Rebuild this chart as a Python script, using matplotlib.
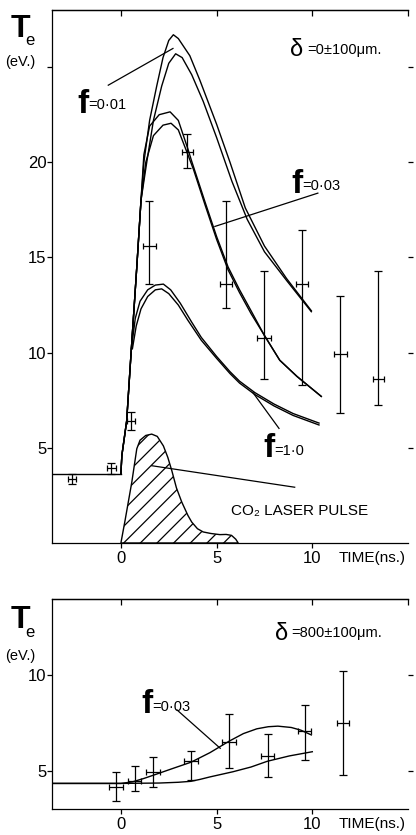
import matplotlib
matplotlib.use('Agg')
import matplotlib.pyplot as plt
import numpy as np

plt.rcParams['font.family'] = ['Liberation Sans', 'DejaVu Sans']
plt.rcParams['hatch.linewidth'] = 0.9

# ---- top panel: delta = 0 +/- 100 um ----
base_t = [-3.6, 0.0]
base_T = [3.64, 3.64]

f001_a_t = [0, 0.05, 0.3, 0.5, 0.83, 1.05, 1.2, 1.5, 1.87, 2.2, 2.5, 2.74, 3.0, 3.6, 4.13, 5.0, 5.7, 6.5, 7.5, 8.65, 9.95]
f001_a_T = [3.64, 4.6, 6.4, 9.5, 14.5, 18.0, 20.0, 22.2, 24.0, 25.5, 26.4, 26.7, 26.5, 25.6, 24.3, 22.0, 20.0, 17.6, 15.6, 13.9, 12.2]
f001_b_t = [0, 0.05, 0.3, 0.5, 0.83, 1.05, 1.35, 1.7, 2.13, 2.5, 2.86, 3.2, 3.7, 4.3, 5.0, 5.8, 6.6, 7.5, 8.65, 9.95]
f001_b_T = [3.64, 4.6, 6.4, 9.5, 14.5, 18.0, 20.0, 22.2, 24.0, 25.2, 25.7, 25.5, 24.6, 23.2, 21.3, 19.0, 17.0, 15.3, 13.8, 12.15]

f003_a_t = [0, 0.05, 0.3, 0.5, 0.83, 1.05, 1.2, 1.5, 2.0, 2.57, 3.0, 3.5, 3.7, 4.4, 5.0, 5.6, 6.2, 6.8, 7.5, 8.3, 9.2, 10.47]
f003_a_T = [3.64, 4.6, 6.4, 9.5, 14.5, 18.0, 20.4, 21.9, 22.5, 22.65, 22.2, 20.7, 20.05, 17.9, 16.1, 14.5, 13.3, 12.2, 10.9, 9.6, 8.75, 7.7]
f003_b_t = [0, 0.05, 0.3, 0.5, 0.83, 1.05, 1.3, 1.7, 2.2, 2.62, 3.0, 3.5, 3.8, 4.4, 5.0, 5.6, 6.2, 6.8, 7.5, 8.3, 9.2, 10.47]
f003_b_T = [3.64, 4.6, 6.4, 9.5, 14.5, 18.0, 20.0, 21.4, 21.95, 22.05, 21.7, 20.4, 19.6, 17.75, 15.95, 14.35, 13.15, 12.05, 10.9, 9.6, 8.75, 7.7]

f1_a_t = [0.55, 0.75, 1.0, 1.4, 1.8, 2.22, 2.6, 3.1, 3.7, 4.2, 5.0, 5.7, 6.2, 7.0, 8.0, 9.0, 10.35]
f1_a_T = [10.2, 11.8, 12.7, 13.3, 13.55, 13.6, 13.3, 12.6, 11.6, 10.8, 9.8, 9.0, 8.5, 7.9, 7.3, 6.8, 6.3]
f1_b_t = [0.6, 0.8, 1.05, 1.4, 1.8, 2.13, 2.5, 3.0, 3.5, 4.2, 5.0, 5.7, 6.2, 7.0, 8.0, 9.0, 10.35]
f1_b_T = [10.2, 11.4, 12.3, 12.95, 13.3, 13.35, 13.1, 12.5, 11.7, 10.65, 9.7, 8.9, 8.4, 7.8, 7.2, 6.7, 6.2]

pulse_t = [0, 0.22, 0.57, 0.83, 1.0, 1.3, 1.61, 1.9, 2.22, 2.45, 2.66, 2.9, 3.18, 3.5, 3.7, 4.0, 4.3, 4.7, 5.17, 5.5, 5.78, 6.0, 6.13]
pulse_T = [0, 1.2, 3.2, 4.95, 5.4, 5.65, 5.72, 5.6, 5.1, 4.5, 3.8, 2.9, 2.15, 1.45, 1.1, 0.75, 0.58, 0.5, 0.44, 0.45, 0.4, 0.2, 0]

top_pts_t = [-2.54, -0.5, 0.52, 1.49, 3.47, 5.48, 7.48, 9.46, 11.46, 13.45]
top_pts_T = [3.35, 3.92, 6.4, 15.58, 20.56, 13.58, 10.78, 13.58, 9.91, 8.64]
top_err_lo = [0.25, 0.3, 0.47, 2.0, 0.86, 1.22, 2.14, 5.29, 3.09, 1.4]
top_err_hi = [0.25, 0.3, 0.47, 2.36, 0.94, 4.36, 3.49, 2.88, 3.05, 5.63]
top_terr = [0.2, 0.25, 0.2, 0.35, 0.3, 0.3, 0.35, 0.3, 0.35, 0.3]

# ---- bottom panel: delta = 800 +/- 100 um ----
low_up_t = [-3.6, 0.0, 0.6, 1.2, 1.87, 2.7, 3.66, 4.65, 5.65, 6.4, 7.1, 7.7, 8.2, 8.9, 9.4, 9.95]
low_up_T = [4.34, 4.34, 4.42, 4.6, 4.83, 5.12, 5.45, 5.95, 6.55, 6.95, 7.2, 7.31, 7.34, 7.27, 7.13, 6.88]
low_dn_t = [-3.6, 0.0, 2.0, 3.0, 3.66, 4.13, 4.65, 5.85, 6.8, 7.65, 8.8, 10.0]
low_dn_T = [4.34, 4.34, 4.36, 4.4, 4.45, 4.55, 4.68, 4.95, 5.2, 5.5, 5.78, 6.0]

low_pts_t = [-0.25, 0.72, 1.68, 3.67, 5.65, 7.66, 9.6, 11.6]
low_pts_T = [4.17, 4.48, 4.92, 5.49, 6.53, 5.78, 7.06, 7.52]
low_err_lo = [0.73, 0.52, 0.77, 0.99, 1.39, 1.09, 1.5, 2.73]
low_err_hi = [0.76, 0.76, 0.81, 0.55, 1.47, 1.17, 1.38, 2.72]
low_terr = [0.35, 0.35, 0.35, 0.35, 0.35, 0.35, 0.35, 0.3]

fig = plt.figure(figsize=(4.16, 8.35), dpi=100)
ax1 = fig.add_axes([52/416, 1-543/835, 356/416, 533/835])
ax2 = fig.add_axes([52/416, 1-809/835, 356/416, 210/835])

lw = 1.0


def style_axes(ax, ylim, yticks, ylabels, time_y):
    ax.set_xlim(-3.6, 15)
    ax.set_ylim(*ylim)
    ax.spines['right'].set_visible(False)
    for s in ['left', 'top', 'bottom']:
        ax.spines[s].set_linewidth(0.9)
    ax.set_yticks(yticks)
    ax.set_yticklabels(ylabels)
    ax.set_xticks([0, 5, 10])
    ax.yaxis.set_ticks_position('both')
    ax.tick_params(axis='y', direction='out', length=3.5, width=0.9, pad=0.5, labelsize=12, labelright=False)
    ax.tick_params(axis='x', direction='out', length=3.5, width=0.9, pad=2, labelsize=12)
    top = ax.secondary_xaxis('top')
    top.set_xticks([0, 5, 10, 15])
    top.tick_params(direction='in', length=4, width=0.9, labeltop=False)
    top.spines['top'].set_linewidth(0.9)
    ax.text(11.35, time_y, 'TIME(ns.)', fontsize=11, ha='left', va='top', clip_on=False)


def errs(ax, t, T, lo, hi, terr):
    ax.errorbar(t, T, yerr=[lo, hi], fmt='none', ecolor='k', elinewidth=0.9, capsize=3.2, capthick=0.9)
    ax.errorbar(t, T, xerr=terr, fmt='none', ecolor='k', elinewidth=0.9, capsize=2.2, capthick=0.9)


# top panel
style_axes(ax1, (0, 28), [5, 10, 15, 20, 25], ['5', '10', '15', '20', ''], -0.42)
ax1.plot(base_t, base_T, color='k', lw=lw)
for tt, TT in [(f001_a_t, f001_a_T), (f001_b_t, f001_b_T), (f003_a_t, f003_a_T),
               (f003_b_t, f003_b_T), (f1_a_t, f1_a_T), (f1_b_t, f1_b_T)]:
    ax1.plot(tt, TT, color='k', lw=lw)
ax1.fill(pulse_t, pulse_T, facecolor='none', edgecolor='k', hatch='//', lw=lw)
errs(ax1, top_pts_t, top_pts_T, top_err_lo, top_err_hi, top_terr)

# leaders and labels
ax1.plot([-0.66, 2.72], [24.05, 25.98], color='k', lw=0.9)
ax1.plot([4.91, 10.29], [16.63, 18.38], color='k', lw=0.9)
ax1.plot([6.9, 8.26], [7.9, 6.02], color='k', lw=0.9)
ax1.plot([1.61, 9.08], [4.06, 2.93], color='k', lw=0.9)
ax1.text(-2.25, 22.6, 'f', fontsize=24, fontweight='bold', ha='left', va='baseline')
ax1.text(-1.68, 22.8, '=0·01', fontsize=10.5, ha='left', va='baseline')
ax1.text(8.93, 18.4, 'f', fontsize=24, fontweight='bold', ha='left', va='baseline')
ax1.text(9.5, 18.55, '=0·03', fontsize=10.5, ha='left', va='baseline')
ax1.text(7.42, 4.52, 'f', fontsize=24, fontweight='bold', ha='left', va='baseline')
ax1.text(7.99, 4.62, '=1·0', fontsize=10.5, ha='left', va='baseline')
ax1.text(8.85, 25.6, 'δ', fontsize=17, ha='left', va='baseline')
ax1.text(9.73, 25.7, '=0±100μm.', fontsize=10.5, ha='left', va='baseline')
ax1.text(5.76, 1.47, 'CO₂ LASER PULSE', fontsize=11, ha='left', va='baseline')

# bottom panel
style_axes(ax2, (3, 14), [5, 10], ['5', '10'], 2.58)
ax2.plot(low_up_t, low_up_T, color='k', lw=lw)
ax2.plot(low_dn_t, low_dn_T, color='k', lw=lw)
errs(ax2, low_pts_t, low_pts_T, low_err_lo, low_err_hi, low_terr)
ax2.plot([2.93, 5.19], [8.19, 6.18], color='k', lw=0.9)
ax2.text(1.09, 8.03, 'f', fontsize=24, fontweight='bold', ha='left', va='baseline')
ax2.text(1.66, 8.13, '=0·03', fontsize=10.5, ha='left', va='baseline')
ax2.text(8.06, 11.85, 'δ', fontsize=17, ha='left', va='baseline')
ax2.text(8.9, 12.0, '=800±100μm.', fontsize=10.5, ha='left', va='baseline')

# T_e axis titles
for y_T, y_e, y_ev in [(37, 45, 66), (628, 637, 660)]:
    fig.text(11/416, 1-y_T/835, 'T', fontsize=23, fontweight='bold', ha='left', va='baseline')
    fig.text(25/416, 1-y_e/835, 'e', fontsize=12, ha='left', va='baseline')
    fig.text(5/416, 1-y_ev/835, '(eV.)', fontsize=10.5, ha='left', va='baseline')

fig.savefig('out.png', dpi=100)
